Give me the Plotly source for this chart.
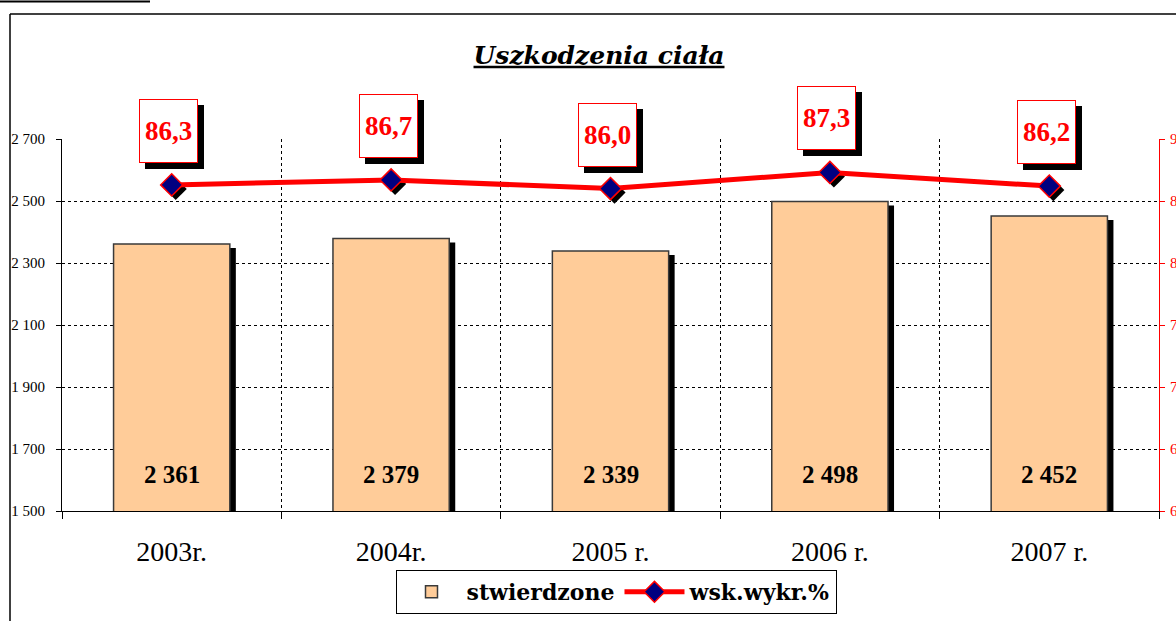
import plotly.graph_objects as go

categories = ["2003r.", "2004r.", "2005 r.", "2006 r.", "2007 r."]
stwierdzone = [2361, 2379, 2339, 2498, 2452]
wsk_wykr = [86.3, 86.7, 86.0, 87.3, 86.2]
left_range = [1500, 2700]
right_range = [60, 90]

W, H = 1176, 621
ML, MR, MT, MB = 62, 17, 139, 110
PW, PH = W - ML - MR, H - MT - MB
cat_px = PW / len(categories)

# pixel offsets for the shadows, converted into shifted axis ranges
bar_dx = 6 / cat_px
bar_dy = 4 * (left_range[1] - left_range[0]) / PH
mk_dx = 4 / cat_px
mk_dy = 4 * (right_range[1] - right_range[0]) / PH

SERIF = "Liberation Serif"
SERIF2 = "DejaVu Serif"

fig = go.Figure()

# bar shadows (base subplot, hidden shifted axes)
fig.add_trace(go.Bar(x=categories, y=stwierdzone, xaxis="x", yaxis="y",
                     marker=dict(color="black", line=dict(width=0)),
                     width=0.53, showlegend=False, hoverinfo="skip"))
# marker shadows
fig.add_trace(go.Scatter(x=categories, y=wsk_wykr, xaxis="x2", yaxis="y2",
                         mode="markers",
                         marker=dict(symbol="diamond", size=17, color="black"),
                         showlegend=False, hoverinfo="skip"))
# main bars
fig.add_trace(go.Bar(x=categories, y=stwierdzone, xaxis="x3", yaxis="y3",
                     name="stwierdzone",
                     marker=dict(color="#FFCC99", line=dict(color="#3a3a3a", width=1.5)),
                     width=0.53))
# line
fig.add_trace(go.Scatter(x=categories, y=wsk_wykr, xaxis="x3", yaxis="y4",
                         name="wsk.wykr.%", mode="lines+markers",
                         line=dict(color="#FF0000", width=5),
                         marker=dict(symbol="diamond", size=17, color="#000080",
                                     line=dict(color="#FF0000", width=1.5))))

annotations = []
for c, v in zip(categories, stwierdzone):
    annotations.append(dict(x=c, y=left_range[0], xref="x3", yref="y3",
                            text=f"<b>{v:,}</b>".replace(",", " "),
                            showarrow=False, yshift=37, yanchor="middle",
                            font=dict(family=SERIF, size=25, color="black")))
for c, v in zip(categories, wsk_wykr):
    txt = f"{v:.1f}".replace(".", ",")
    annotations.append(dict(x=c, y=v, xref="x3", yref="y4", text=" ",
                            showarrow=False, xshift=-3 + 6, yshift=54 - 6,
                            width=57, height=62, borderpad=0,
                            bgcolor="black", bordercolor="black", borderwidth=1,
                            font=dict(family=SERIF, size=27, color="black")))
    annotations.append(dict(x=c, y=v, xref="x3", yref="y4",
                            text=f"<b>{txt}</b>",
                            showarrow=False, xshift=-3, yshift=54,
                            width=57, height=62, borderpad=0,
                            bgcolor="white", bordercolor="#FF0000", borderwidth=1,
                            font=dict(family=SERIF, size=27, color="#FF0000")))

def px_x(p):
    return (p - ML) / PW

def px_y(p):
    return (H - MB - p) / PH

shapes = [
    dict(type="line", xref="paper", yref="paper", x0=px_x(10), x1=px_x(10),
         y0=px_y(14), y1=px_y(H + 10), line=dict(color="black", width=1.5)),
    dict(type="line", xref="paper", yref="paper", x0=px_x(10), x1=px_x(W + 10),
         y0=px_y(14), y1=px_y(14), line=dict(color="black", width=1.5)),
    dict(type="line", xref="paper", yref="paper", x0=px_x(0), x1=px_x(150),
         y0=px_y(1.5), y1=px_y(1.5), line=dict(color="black", width=2)),
]

hidden = dict(visible=False, fixedrange=True)
fig.update_layout(
    width=W, height=H,
    margin=dict(l=ML, r=MR, t=MT, b=MB, autoexpand=False),
    paper_bgcolor="white", plot_bgcolor="white",
    separators=", ",
    barmode="overlay",
    showlegend=True,
    title=dict(text="Uszkodzenia ciała", x=599 / W, xref="container", xanchor="center",
               y=1 - 55 / H, yref="container", yanchor="middle",
               font=dict(family=SERIF2, size=25, color="black", weight="bold",
                         style="italic", lineposition="under")),
    xaxis=dict(type="category", categoryarray=categories,
               range=[-0.5 - bar_dx, len(categories) - 0.5 - bar_dx], **hidden),
    xaxis2=dict(type="category", categoryarray=categories, overlaying="x",
                range=[-0.5 - mk_dx, len(categories) - 0.5 - mk_dx], **hidden),
    xaxis3=dict(type="category", categoryarray=categories, overlaying="x",
                range=[-0.5, len(categories) - 0.5], anchor="y3",
                tickson="boundaries", ticks="outside", ticklen=7, tickcolor="black",
                showline=True, linecolor="black", linewidth=1,
                showgrid=True, gridcolor="black", griddash="dot", gridwidth=1,
                tickfont=dict(family=SERIF, size=28, color="black"),
                ticklabelstandoff=15),
    yaxis=dict(range=[left_range[0] + bar_dy, left_range[1] + bar_dy], **hidden),
    yaxis2=dict(range=[right_range[0] + mk_dy, right_range[1] + mk_dy],
                overlaying="y", **hidden),
    yaxis3=dict(range=left_range, overlaying="y", anchor="x3", side="left",
                tick0=left_range[0], dtick=200, separatethousands=True,
                ticks="outside", ticklen=5, tickcolor="black",
                showline=True, linecolor="black", linewidth=1,
                showgrid=True, gridcolor="black", griddash="dot", gridwidth=1,
                zeroline=False,
                tickfont=dict(family=SERIF, size=15, color="black"),
                ticklabelstandoff=8),
    yaxis4=dict(range=right_range, overlaying="y", anchor="x3", side="right",
                tick0=right_range[0], dtick=5, ticks="outside", ticklen=5,
                tickcolor="#FF0000",
                showline=True, linecolor="#FF0000", linewidth=1,
                showgrid=False, zeroline=False,
                tickfont=dict(family=SERIF, size=15, color="#FF0000"),
                ticklabelstandoff=2),
    legend=dict(orientation="h", x=px_x(616), xanchor="center",
                y=px_y(570), yanchor="top",
                bgcolor="white", bordercolor="black", borderwidth=1,
                font=dict(family=SERIF2, size=22, color="black", weight="bold"),
                itemwidth=60),
    annotations=annotations,
    shapes=shapes,
)

fig.write_html("out.html", config={"displayModeBar": False},
               post_script="document.body.style.margin='0';")
